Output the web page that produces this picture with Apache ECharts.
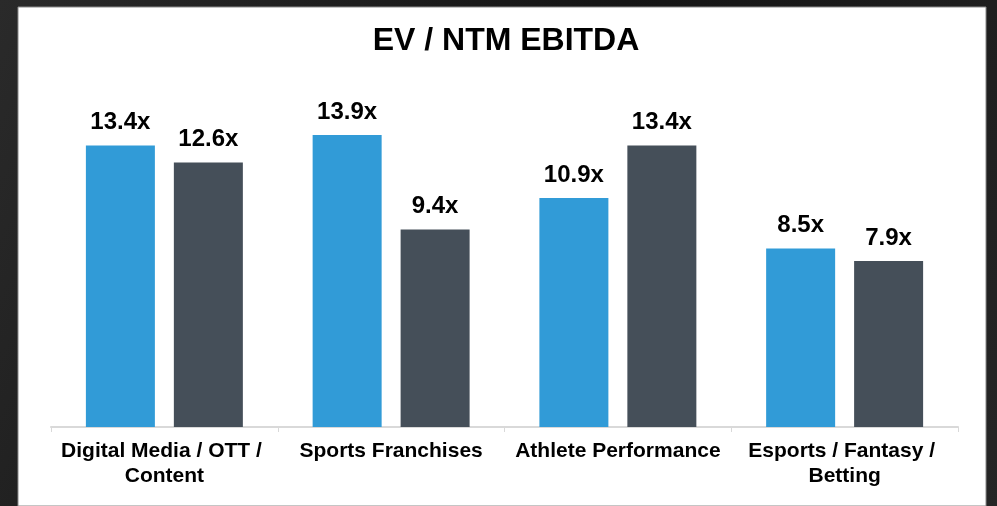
<!DOCTYPE html>
<html>
<head>
<meta charset="utf-8">
<script src="https://cdn.jsdelivr.net/npm/echarts@6/dist/echarts.min.js"></script>
<style>
  html, body { margin: 0; padding: 0; background: #1d1d1d; }
  #chart { width: 997px; height: 506px; }
</style>
</head>
<body>
<div id="chart"></div>
<script>
// EV / NTM EBITDA multiples by sector
const categories = [
  'Digital Media / OTT / Content',
  'Sports Franchises',
  'Athlete Performance',
  'Esports / Fantasy / Betting'
];
const seriesA = [13.4, 13.9, 10.9, 8.5];
const seriesB = [12.6, 9.4, 13.4, 7.9];
const titleText = 'EV / NTM EBITDA';

const FONT = '"Liberation Sans", Arial, Helvetica, sans-serif';

const chart = echarts.init(document.getElementById('chart'), null, { renderer: 'canvas' });

const valueLabel = {
  show: true,
  position: 'top',
  distance: 11,
  formatter: p => p.value.toFixed(1) + 'x',
  color: '#000',
  fontFamily: FONT,
  fontWeight: 'bold',
  fontSize: 24
};

chart.setOption({
  animation: false,
  backgroundColor: {
    type: 'linear', x: 0, y: 0, x2: 1, y2: 1,
    colorStops: [
      { offset: 0, color: '#2a2a2a' },
      { offset: 0.5, color: '#151515' },
      { offset: 1, color: '#262626' }
    ]
  },
  graphic: [{
    type: 'rect',
    z: -10,
    shape: { x: 18, y: 7, width: 968, height: 499 },
    style: { fill: '#ffffff', stroke: '#8a8a8a', lineWidth: 1 }
  }],
  title: {
    text: titleText,
    left: 501,
    top: 20,
    textAlign: 'center',
    textStyle: { fontFamily: FONT, fontWeight: 'bold', fontSize: 32, color: '#000' }
  },
  grid: { left: 51, right: 39, top: 91, bottom: 79, containLabel: false },
  xAxis: {
    type: 'category',
    data: categories,
    axisLine: { lineStyle: { color: '#d9d9d9', width: 2 } },
    axisTick: { show: true, length: 5, lineStyle: { color: '#d9d9d9', width: 1 } },
    axisLabel: {
      interval: 0,
      margin: 12,
      width: 224,
      overflow: 'break',
      lineHeight: 25,
      color: '#000',
      fontFamily: FONT,
      fontWeight: 'bold',
      fontSize: 21
    }
  },
  yAxis: {
    type: 'value',
    min: 0,
    max: 16,
    show: false,
    splitLine: { show: false }
  },
  series: [
    {
      type: 'bar',
      data: seriesA,
      barWidth: 69,
      barGap: '27.5%',
      itemStyle: { color: '#319bd7' },
      label: valueLabel
    },
    {
      type: 'bar',
      data: seriesB,
      barWidth: 69,
      barGap: '27.5%',
      itemStyle: { color: '#454f59' },
      label: valueLabel
    }
  ]
});
</script>
</body>
</html>
